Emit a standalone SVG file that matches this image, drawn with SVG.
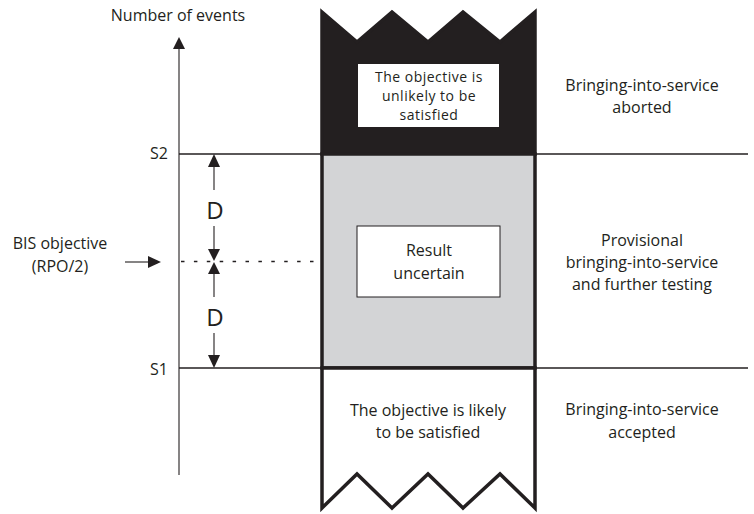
<svg xmlns="http://www.w3.org/2000/svg" width="754" height="514" viewBox="0 0 754 514">
  <defs>
    <style>
      text { font-family: "Open Sans", "Liberation Sans", sans-serif; font-size: 16px; fill: #231f20; }
      .mid { text-anchor: middle; }
      .end { text-anchor: end; }
      .big { font-size: 24px; }
      .tight { font-size: 14px; letter-spacing: 0.5px; }
      .thin { stroke: #231f20; stroke-width: 1.3; fill: none; }
      .axis { stroke: #231f20; stroke-width: 1.1; fill: none; }
      .dots { stroke: #231f20; stroke-width: 1.6; stroke-dasharray: 3.5 9.4; fill: none; }
      .col { stroke: #231f20; stroke-width: 3.5; stroke-linejoin: miter; }
      .head { fill: #231f20; }
    </style>
  </defs>

  <!-- threshold lines and axis -->
  <g id="connectors">
    <line class="thin" x1="179" y1="154" x2="748" y2="154"/>
    <line class="thin" x1="179" y1="368" x2="748" y2="368"/>
    <line class="dots" x1="181" y1="261.5" x2="320" y2="261.5"/>
    <line class="axis" x1="179" y1="46" x2="179" y2="475"/>
    <polygon class="head" points="179,37 173,49 185,49"/>
    <!-- BIS objective pointer -->
    <line class="axis" x1="125" y1="262" x2="150" y2="262"/>
    <polygon class="head" points="161,262 148,256 148,268"/>
    <!-- D spans -->
    <line class="axis" x1="214" y1="160" x2="214" y2="190"/>
    <polygon class="head" points="214,154 208,167 220,167"/>
    <line class="axis" x1="214" y1="226" x2="214" y2="252"/>
    <polygon class="head" points="214,261 208,249 220,249"/>
    <line class="axis" x1="214" y1="270" x2="214" y2="297"/>
    <polygon class="head" points="214,262 208,274 220,274"/>
    <line class="axis" x1="214" y1="333" x2="214" y2="360"/>
    <polygon class="head" points="214,368 208,355 220,355"/>
  </g>

  <g id="axis-label">
    <text class="mid" x="178" y="21">Number of events</text>
  </g>
  <g id="s2-label"><text class="end" x="168" y="159">S2</text></g>
  <g id="s1-label"><text class="end" x="168" y="375">S1</text></g>
  <g id="bis-label">
    <text class="mid" x="60" y="249">BIS objective</text>
    <text class="mid" x="60" y="272">(RPO/2)</text>
  </g>
  <g id="d-upper"><text class="mid big" x="215" y="219">D</text></g>
  <g id="d-lower"><text class="mid big" x="215" y="326">D</text></g>

  <!-- upper band: objective unlikely -->
  <g id="band-unlikely">
    <polygon class="col" fill="#231f20" points="322,12 357,42 392,12 428,42 463,12 500,42 535,12 535,154 322,154"/>
    <rect x="358" y="64" width="141" height="63" fill="#ffffff"/>
    <text class="mid tight" x="429" y="82">The objective is</text>
    <text class="mid tight" x="429" y="101.2">unlikely to be</text>
    <text class="mid tight" x="429" y="120.4">satisfied</text>
  </g>

  <!-- middle band: result uncertain -->
  <g id="band-uncertain">
    <rect class="col" x="322" y="154" width="213" height="214" fill="#d3d4d6"/>
    <rect x="357" y="226" width="143" height="71" fill="#ffffff" stroke="#231f20" stroke-width="1"/>
    <text class="mid" x="429" y="256">Result</text>
    <text class="mid" x="429" y="279">uncertain</text>
  </g>

  <!-- lower band: objective likely -->
  <g id="band-likely">
    <polygon class="col" fill="#ffffff" points="322,368 535,368 535,508 500,474 463,508 428,474 392,508 357,474 322,508"/>
    <text class="mid" x="428" y="416">The objective is likely</text>
    <text class="mid" x="428" y="438">to be satisfied</text>
  </g>

  <!-- outcomes -->
  <g id="outcome-aborted">
    <text class="mid" x="642" y="91">Bringing-into-service</text>
    <text class="mid" x="642" y="113">aborted</text>
  </g>
  <g id="outcome-provisional">
    <text class="mid" x="642" y="246">Provisional</text>
    <text class="mid" x="642" y="268">bringing-into-service</text>
    <text class="mid" x="642" y="290">and further testing</text>
  </g>
  <g id="outcome-accepted">
    <text class="mid" x="642" y="415">Bringing-into-service</text>
    <text class="mid" x="642" y="438">accepted</text>
  </g>
</svg>
